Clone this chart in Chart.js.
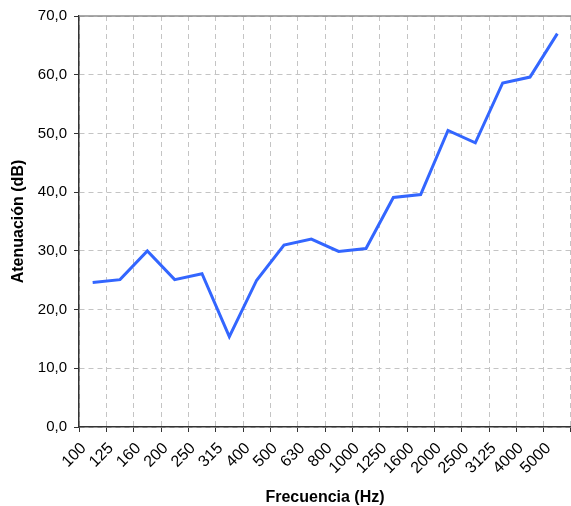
<!DOCTYPE html>
<html>
<head>
<meta charset="utf-8">
<script src="https://cdn.jsdelivr.net/npm/chart.js@4"></script>
<style>
  html, body { margin: 0; padding: 0; background: #fff; }
  #wrap { width: 571px; height: 506px; }
</style>
</head>
<body>
<div id="wrap"><canvas id="atenChart" width="571" height="506"></canvas></div>
<script>
// datos
const frecuencias = ["100", "125", "160", "200", "250", "315", "400", "500", "630", "800",
  "1000", "1250", "1600", "2000", "2500", "3125", "4000", "5000"];
const atenuacion = [24.6, 25.1, 30.0, 25.1, 26.1, 15.4, 25.0, 31.0, 32.0, 29.9,
  30.4, 39.1, 39.6, 50.5, 48.4, 58.6, 59.6, 67.0];
const yMin = 0;
const yMax = 70;
const yStep = 10;

// marco superior del area de trazado
const marcoSuperior = {
  id: "marcoSuperior",
  afterDraw(chart) {
    const ctx = chart.ctx;
    const a = chart.chartArea;
    ctx.save();
    ctx.strokeStyle = "#8c8c8c";
    ctx.lineWidth = 1.5;
    ctx.beginPath();
    ctx.moveTo(a.left, a.top);
    ctx.lineTo(a.right, a.top);
    ctx.stroke();
    ctx.restore();
  }
};

const grafico = new Chart("atenChart", {
  type: "line",
  data: {
    labels: frecuencias,
    datasets: [{
      label: "Atenuación",
      data: atenuacion,
      borderColor: "#3366ff",
      backgroundColor: "#3366ff",
      borderWidth: 3,
      pointRadius: 0,
      lineTension: 0
    }]
  },
  options: {
    responsive: false,
    animation: false,
    devicePixelRatio: 1,
    layout: { padding: { top: 16, left: 0, right: 0, bottom: 0 } },
    plugins: {
      legend: { display: false },
      tooltip: { enabled: false }
    },
    scales: {
      x: {
        offset: true,
        grid: {
          offset: true,
          color: "#c4c4c4",
          tickColor: "#333",
          tickLength: 5,
          lineWidth: 1
        },
        border: { color: "#333", width: 1.5, dash: [5, 4] },
        ticks: {
          autoSkip: false,
          maxRotation: 45,
          minRotation: 45,
          labelOffset: -9,
          padding: 7,
          color: "#000",
          font: { family: "'Liberation Sans', Arial, sans-serif", size: 16 }
        },
        title: {
          display: true,
          text: "Frecuencia (Hz)",
          color: "#000",
          padding: { top: 0, bottom: 0 },
          font: { family: "'Liberation Sans', Arial, sans-serif", size: 16, weight: "bold", lineHeight: 1 }
        },
        afterFit(scale) {
          scale.height = 79;
          scale.paddingLeft = 0;
          scale.paddingRight = 0;
        }
      },
      y: {
        min: yMin,
        max: yMax,
        ticks: {
          stepSize: yStep,
          padding: 7,
          color: "#000",
          font: { family: "'Liberation Sans', Arial, sans-serif", size: 15 },
          callback: function(v) { return v.toFixed(1).replace(".", ","); }
        },
        grid: {
          color: "#c4c4c4",
          tickColor: "#333",
          tickLength: 5,
          lineWidth: 1
        },
        border: { color: "#333", width: 1.5, dash: [5, 4] },
        title: {
          display: true,
          text: "Atenuación (dB)",
          color: "#000",
          padding: { top: 9, bottom: 0 },
          font: { family: "'Liberation Sans', Arial, sans-serif", size: 16, weight: "bold" }
        },
        afterFit(scale) {
          scale.width = 79;
          scale.paddingTop = 0;
          scale.paddingBottom = 0;
        }
      }
    }
  },
  plugins: [marcoSuperior]
});
</script>
</body>
</html>
